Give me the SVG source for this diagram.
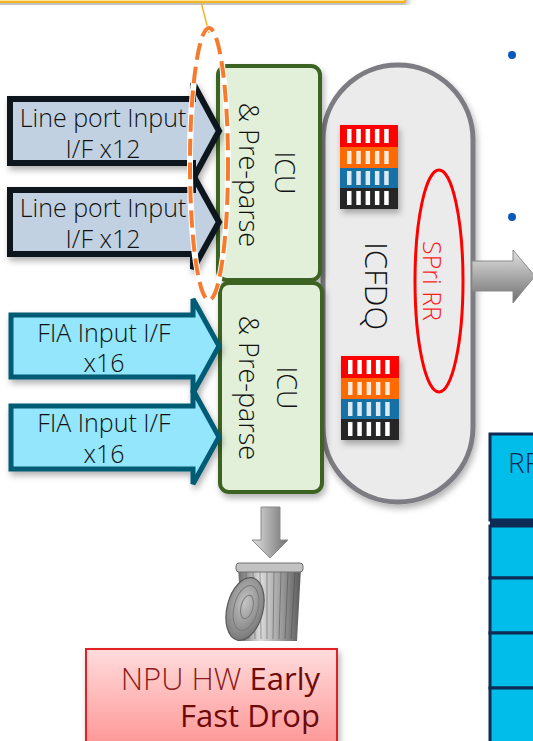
<svg xmlns="http://www.w3.org/2000/svg" xmlns:xlink="http://www.w3.org/1999/xlink" width="533" height="741" viewBox="0 0 533 741">
  <style>
    .thin { font-family: "Open Sans", "Liberation Sans", sans-serif; font-weight: 300; }
    .lbl { font-size: 25px; fill: #111; text-anchor: middle; }
    .icu { font-size: 27px; fill: #111; text-anchor: middle; }
    .green { fill: #e2f0d9; stroke: #3d6323; stroke-width: 4; }
    .lp { fill: #c1d1e2; stroke: #10141c; stroke-width: 6; stroke-linejoin: miter; }
    .fia { fill: #93e6fb; stroke: #005b74; stroke-width: 5; stroke-linejoin: miter; }
    .row { fill: #00bde9; stroke: #0d2b55; stroke-width: 3; }
  </style>
  <defs>
    <filter id="shadow" x="-20%" y="-20%" width="140%" height="140%">
      <feDropShadow dx="2" dy="4" stdDeviation="3" flood-color="#000" flood-opacity="0.3"/>
    </filter>
    <linearGradient id="grayV" x1="0" y1="0" x2="0" y2="1">
      <stop offset="0" stop-color="#e0e0e0"/>
      <stop offset="0.5" stop-color="#a9a9a9"/>
      <stop offset="1" stop-color="#6f6f6f"/>
    </linearGradient>
    <linearGradient id="grayH" x1="0" y1="0" x2="1" y2="0">
      <stop offset="0" stop-color="#e0e0e0"/>
      <stop offset="0.5" stop-color="#a9a9a9"/>
      <stop offset="1" stop-color="#6f6f6f"/>
    </linearGradient>
    <linearGradient id="redFill" x1="0" y1="0" x2="0" y2="1">
      <stop offset="0" stop-color="#ffdcdc"/>
      <stop offset="1" stop-color="#ff9292"/>
    </linearGradient>
    <linearGradient id="canBody" x1="0" y1="0" x2="1" y2="0">
      <stop offset="0" stop-color="#6a6a6a"/>
      <stop offset="0.35" stop-color="#dcdcdc"/>
      <stop offset="0.65" stop-color="#a4a4a4"/>
      <stop offset="1" stop-color="#5a5a5a"/>
    </linearGradient>
    <radialGradient id="lidFill" cx="0.45" cy="0.4" r="0.6">
      <stop offset="0" stop-color="#c4c4c4"/>
      <stop offset="1" stop-color="#7a7a7a"/>
    </radialGradient>
    <!-- four-band queue stack icon -->
    <g id="queue">
      <rect x="0" y="0" width="58" height="22" fill="#ff0000"/>
      <rect x="0" y="22" width="58" height="21" fill="#ff6a00"/>
      <rect x="0" y="43" width="58" height="20" fill="#1672a6"/>
      <rect x="0" y="63" width="58" height="21" fill="#252525"/>
      <g fill="#ffffff">
        <rect x="7" y="4" width="4.5" height="14"/><rect x="16.3" y="4" width="4.5" height="14"/><rect x="25.6" y="4" width="4.5" height="14"/><rect x="34.9" y="4" width="4.5" height="14"/><rect x="44.2" y="4" width="4.5" height="14"/>
        <rect x="7" y="26" width="4.5" height="13" opacity="0.85"/><rect x="16.3" y="26" width="4.5" height="13" opacity="0.85"/><rect x="25.6" y="26" width="4.5" height="13" opacity="0.85"/><rect x="34.9" y="26" width="4.5" height="13" opacity="0.85"/><rect x="44.2" y="26" width="4.5" height="13" opacity="0.85"/>
        <rect x="7" y="46" width="4.5" height="14" opacity="0.85"/><rect x="16.3" y="46" width="4.5" height="14" opacity="0.85"/><rect x="25.6" y="46" width="4.5" height="14" opacity="0.85"/><rect x="34.9" y="46" width="4.5" height="14" opacity="0.85"/><rect x="44.2" y="46" width="4.5" height="14" opacity="0.85"/>
        <rect x="7" y="66" width="4.5" height="14"/><rect x="16.3" y="66" width="4.5" height="14"/><rect x="25.6" y="66" width="4.5" height="14"/><rect x="34.9" y="66" width="4.5" height="14"/><rect x="44.2" y="66" width="4.5" height="14"/>
      </g>
    </g>
  </defs>

  <rect width="533" height="741" fill="#ffffff"/>

  <!-- callout box along the top edge -->
  <g id="callout">
    <rect x="-6" y="-12" width="411" height="14" fill="#ffe69c" stroke="#f5b325" stroke-width="2" filter="url(#shadow)"/>
    <line x1="201" y1="2" x2="209" y2="33" stroke="#f5b325" stroke-width="1.5"/>
  </g>

  <!-- bullets -->
  <circle cx="512" cy="55" r="4" fill="#0a58c0"/>
  <circle cx="512" cy="217" r="4" fill="#0a58c0"/>

  <!-- ICFDQ pill -->
  <g id="icfdq">
    <rect x="323" y="65" width="150" height="437" rx="75" fill="#ebebeb" stroke="#7c7c82" stroke-width="5" filter="url(#shadow)"/>
    <use href="#queue" x="340" y="125" filter="url(#shadow)"/>
    <use href="#queue" x="341" y="356" filter="url(#shadow)"/>
    <text class="thin" transform="translate(365,286) rotate(90)" font-size="31" fill="#111" text-anchor="middle">ICFDQ</text>
  </g>

  <!-- scheduler -->
  <g id="spri">
    <ellipse cx="439" cy="281" rx="24" ry="111" fill="none" stroke="#ff0000" stroke-width="3"/>
    <text class="thin" transform="translate(423,281) rotate(90)" font-size="25" fill="#ff1a1a" text-anchor="middle">SPri RR</text>
  </g>

  <!-- ICU blocks -->
  <g id="icu-top">
    <rect x="218" y="66" width="102" height="214" rx="9" class="green" filter="url(#shadow)"/>
    <text class="thin icu" transform="translate(275,173) rotate(90)">ICU</text>
    <text class="thin icu" transform="translate(239,175) rotate(90)">&amp; Pre-parse</text>
  </g>
  <g id="icu-bottom">
    <rect x="220" y="283" width="102" height="209" rx="9" class="green" filter="url(#shadow)"/>
    <text class="thin icu" transform="translate(277,388) rotate(90)">ICU</text>
    <text class="thin icu" transform="translate(239,388) rotate(90)">&amp; Pre-parse</text>
  </g>

  <!-- input interfaces -->
  <g id="lp1">
    <polygon class="lp" points="10,99 193,99 193,83 219,131 193,179 193,163 10,163" filter="url(#shadow)"/>
    <text class="thin lbl" x="103" y="127">Line port Input</text>
    <text class="thin lbl" x="103" y="158">I/F x12</text>
  </g>
  <g id="lp2">
    <polygon class="lp" points="10,190 193,190 193,175 219,222 193,269 193,254 10,254" filter="url(#shadow)"/>
    <text class="thin lbl" x="103" y="217">Line port Input</text>
    <text class="thin lbl" x="103" y="248">I/F x12</text>
  </g>
  <g id="fia1">
    <polygon class="fia" points="11,315 193,315 193,299 219,346 193,393 193,377 11,377" filter="url(#shadow)"/>
    <text class="thin lbl" x="104" y="342">FIA Input I/F</text>
    <text class="thin lbl" x="104" y="372">x16</text>
  </g>
  <g id="fia2">
    <polygon class="fia" points="11,406 193,406 193,390 219,437 193,484 193,469 11,469" filter="url(#shadow)"/>
    <text class="thin lbl" x="104" y="432">FIA Input I/F</text>
    <text class="thin lbl" x="104" y="463">x16</text>
  </g>

  <!-- dashed highlight around the line-port ICU entry -->
  <g id="highlight" fill="none">
    <ellipse cx="209" cy="164" rx="19" ry="136" stroke="#ffffff" stroke-width="6"/>
    <ellipse cx="209" cy="164" rx="19" ry="136" stroke="#f77b2e" stroke-width="4" stroke-dasharray="17 7"/>
  </g>

  <!-- connectors -->
  <g id="connectors">
    <polygon points="472,261 513,261 513,250 535,276 513,303 513,291 472,291" fill="url(#grayV)" stroke="#8a8a8a" stroke-width="1"/>
    <polygon points="261,507 280,507 280,540 288,540 270,558 252,540 261,540" fill="url(#grayH)" stroke="#8a8a8a" stroke-width="1"/>
  </g>

  <!-- trash can -->
  <g id="trash">
    <path d="M238,568 L301,568 L297,641 L243,641 Z" fill="url(#canBody)"/>
    <g stroke="#4a4a4a" stroke-width="1" opacity="0.5">
      <line x1="246" y1="572" x2="249" y2="639"/><line x1="253" y1="572" x2="255" y2="639"/>
      <line x1="260" y1="572" x2="261" y2="639"/><line x1="267" y1="572" x2="267" y2="639"/>
      <line x1="274" y1="572" x2="273" y2="639"/><line x1="281" y1="572" x2="279" y2="639"/>
      <line x1="288" y1="572" x2="285" y2="639"/><line x1="295" y1="572" x2="291" y2="639"/>
    </g>
    <rect x="236" y="563" width="67" height="9" rx="3" fill="#c2c2c2" stroke="#707070" stroke-width="1"/>
    <ellipse cx="245" cy="609" rx="18" ry="32" transform="rotate(14 245 609)" fill="url(#lidFill)" stroke="#5a5a5a" stroke-width="1.2"/>
    <ellipse cx="246" cy="608" rx="12" ry="23" transform="rotate(14 246 608)" fill="none" stroke="#7a7a7a" stroke-width="1"/>
    <ellipse cx="247" cy="607" rx="6" ry="12" transform="rotate(14 247 607)" fill="none" stroke="#7a7a7a" stroke-width="1"/>
  </g>

  <!-- drop label -->
  <g id="drop">
    <rect x="86" y="649" width="251" height="102" fill="url(#redFill)" stroke="#e22222" stroke-width="2" filter="url(#shadow)"/>
    <text x="320" y="690" font-size="31" text-anchor="end" font-family="Open Sans, Liberation Sans, sans-serif"><tspan font-weight="300" fill="#8e1b1b">NPU HW </tspan><tspan font-weight="400" fill="#6d0a0a">Early</tspan></text>
    <text x="320" y="727" font-size="31" text-anchor="end" font-family="Open Sans, Liberation Sans, sans-serif" font-weight="400" fill="#6d0a0a">Fast Drop</text>
  </g>

  <!-- table at right edge -->
  <g id="rf-table">
    <rect x="490" y="434" width="60" height="86" class="row"/>
    <rect x="490" y="526" width="60" height="52" class="row"/>
    <rect x="490" y="578" width="60" height="55" class="row"/>
    <rect x="490" y="633" width="60" height="55" class="row"/>
    <rect x="490" y="688" width="60" height="60" class="row"/>
    <rect x="490" y="519" width="60" height="7" fill="#0d2b55"/>
    <text class="thin" x="508" y="473" font-size="28" fill="#0d2b55">RF</text>
  </g>
</svg>
